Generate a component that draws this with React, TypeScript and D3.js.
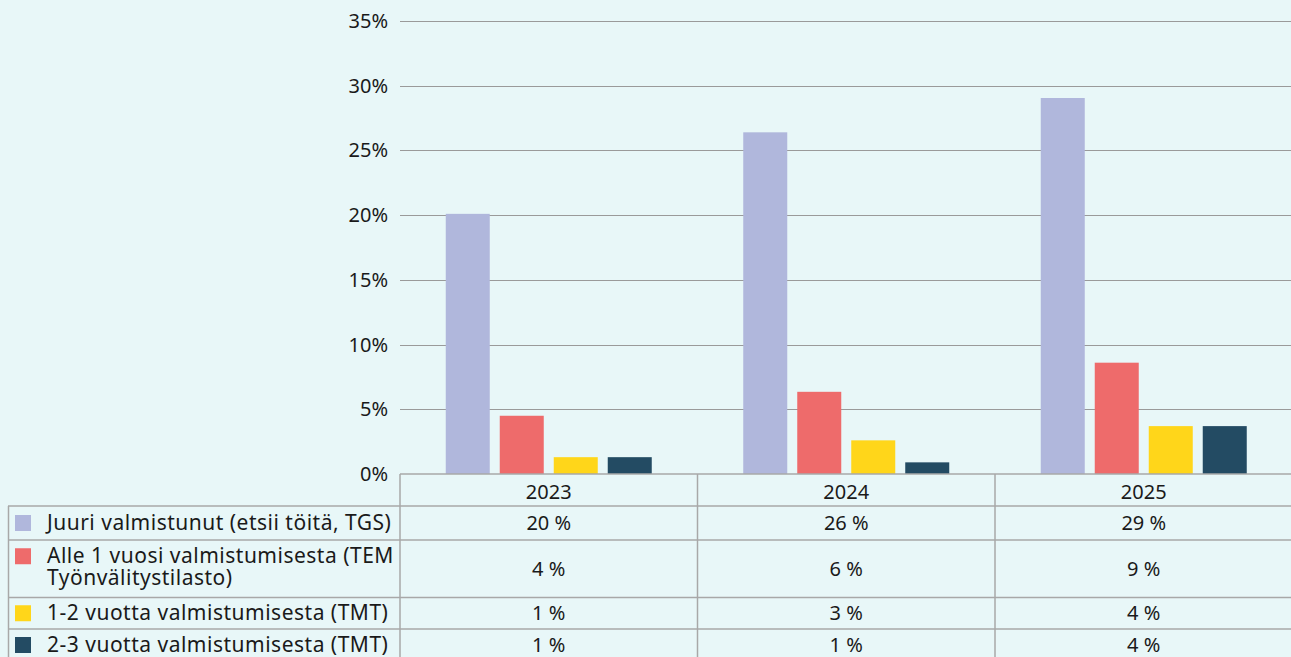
import React from "react";
import * as d3 from "d3";

const years = ["2023", "2024", "2025"];
const seriesNames = [
  ["Juuri valmistunut (etsii töitä, TGS)"],
  ["Alle 1 vuosi valmistumisesta (TEM", "Työnvälitystilasto)"],
  ["1-2 vuotta valmistumisesta (TMT)"],
  ["2-3 vuotta valmistumisesta (TMT)"],
];
const seriesColors = ["#B0B7DC", "#EE6B6B", "#FFD61A", "#234B63"];
const juuri = [20.1, 26.4, 29.05];
const alle1 = [4.5, 6.35, 8.6];
const v12 = [1.3, 2.6, 3.7];
const v23 = [1.3, 0.9, 3.7];
const tableLabels = [
  ["20 %", "26 %", "29 %"],
  ["4 %", "6 %", "9 %"],
  ["1 %", "3 %", "4 %"],
  ["1 %", "1 %", "4 %"],
];
const yTicks = [0, 5, 10, 15, 20, 25, 30, 35];

const W = 1291;
const H = 657;
const FONT = "'Noto Sans', sans-serif";
const FS = 20;

export default function App() {
  const series = [juuri, alle1, v12, v23];
  const plotLeft = 400;
  const plotRight = 1292.5;
  const y = d3.scaleLinear().domain([0, 35]).range([474, 21]);
  const x = d3.scaleBand().domain(years).range([plotLeft, plotRight]).padding(0);
  const bw = x.bandwidth();
  const inner = d3
    .scaleBand<number>()
    .domain([0, 1, 2, 3])
    .range([(bw - 206) / 2, (bw + 206) / 2])
    .paddingInner(0.185);

  const headerTop = 474;
  const rowEdges = [506, 540, 597.5, 629, 661];
  const gridColor = "#9a9a9a";
  const tableColor = "#a8a8a8";
  const textColor = "#1a1a1a";

  return (
    <div style={{ position: "fixed", left: 0, top: 0 }}>
      <svg width={W} height={H} style={{ display: "block" }}>
        <rect x={0} y={0} width={W} height={H} fill="#E8F7F8" />
        {yTicks.map((t) => (
          <g key={t}>
            {t > 0 && (
              <line
                x1={plotLeft}
                x2={plotRight}
                y1={Math.round(y(t)) + 0.5}
                y2={Math.round(y(t)) + 0.5}
                stroke={gridColor}
                strokeWidth={1}
              />
            )}
            <text
              x={388}
              y={y(t) + 7}
              textAnchor="end"
              fontFamily={FONT}
              fontSize={FS}
              fill={textColor}
            >
              {t}%
            </text>
          </g>
        ))}
        {years.map((yr, i) => (
          <g key={yr} transform={`translate(${x(yr)},0)`}>
            {series.map((s, k) => (
              <rect
                key={k}
                x={inner(k)}
                y={y(s[i])}
                width={inner.bandwidth()}
                height={y(0) - y(s[i])}
                fill={seriesColors[k]}
              />
            ))}
          </g>
        ))}
        <g stroke={tableColor} strokeWidth={1.5} fill="none">
          <line x1={plotLeft} x2={plotRight} y1={headerTop} y2={headerTop} />
          {rowEdges.map((e, i) => (
            <line key={i} x1={8} x2={plotRight} y1={e} y2={e} />
          ))}
          <line x1={8.5} x2={8.5} y1={rowEdges[0]} y2={H} />
          {[plotLeft, ...years.slice(1).map((yr) => x(yr) as number)].map((xv, i) => (
            <line key={i} x1={xv} x2={xv} y1={headerTop} y2={H} />
          ))}
        </g>
        {years.map((yr) => (
          <text
            key={yr}
            x={(x(yr) as number) + bw / 2}
            y={499}
            textAnchor="middle"
            fontFamily={FONT}
            fontSize={FS}
            fill={textColor}
          >
            {yr}
          </text>
        ))}
        {seriesNames.map((lines, k) => {
          const top = rowEdges[k];
          const bottom = rowEdges[k + 1];
          const mid = (top + bottom) / 2;
          const firstBase = lines.length === 1 ? mid + 7 : mid - 5.5;
          return (
            <g key={k}>
              <rect x={15} y={firstBase - 15} width={16} height={16} fill={seriesColors[k]} />
              <text
                fontFamily={FONT}
                fontSize={21}
                letterSpacing={0.5}
                fill={textColor}
              >
                {lines.map((ln, j) => (
                  <tspan key={j} x={47} y={firstBase + j * 21.5}>
                    {ln}
                  </tspan>
                ))}
              </text>
              {years.map((yr, i) => (
                <text
                  key={yr}
                  x={(x(yr) as number) + bw / 2}
                  y={mid + 7}
                  textAnchor="middle"
                  fontFamily={FONT}
                  fontSize={FS}
                  fill={textColor}
                >
                  {tableLabels[k][i]}
                </text>
              ))}
            </g>
          );
        })}
      </svg>
    </div>
  );
}
